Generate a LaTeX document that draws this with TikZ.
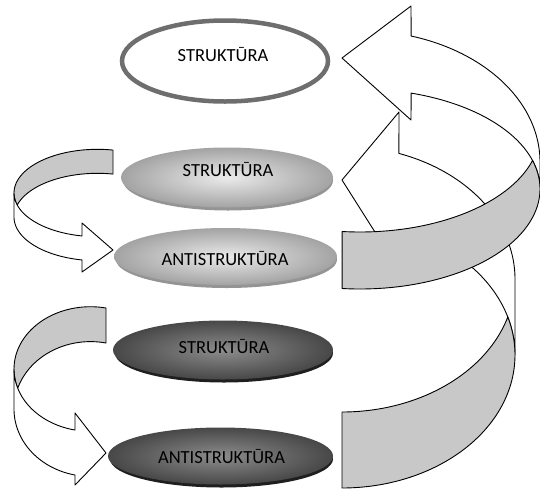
\documentclass[tikz,border=0pt]{standalone}
\usepackage{fontspec}
\setmainfont{Carlito}
\usetikzlibrary{shapes.geometric}
\definecolor{backgray}{HTML}{C8C8C8}
\definecolor{ringgray}{HTML}{6E6E6E}
\begin{document}
\begin{tikzpicture}[x=1pt,y=-1pt,
  edge/.style={draw=black, line width=0.9pt, line join=round},
  front/.style={edge, fill=white},
  back/.style={edge, fill=backgray},
  topell/.style={ellipse, inner sep=0pt, draw=ringgray, line width=4.5pt, fill=white},
  lightrim/.style={ellipse, inner sep=0pt, draw=none, fill=black!42},
  lightell/.style={ellipse, inner sep=0pt, draw=none, inner color=black!8, outer color=black!36},
  darkrim/.style={ellipse, inner sep=0pt, draw=none, fill=black!88},
  darkell/.style={ellipse, inner sep=0pt, draw=none, inner color=black!45, outer color=black!72},
  lbl/.style={anchor=base, inner sep=0pt, font=\fontsize{18.5}{20}\selectfont, text=black}]
\useasboundingbox (0,0) rectangle (540,491);

% ---------- right arrow A (lower, partly hidden) ----------
\draw[front] plot[domain=360:289.2,samples=50,variable=\t]({342+173*cos(\t)},{355+133*sin(\t)})
  -- (399,270) -- (342,180) -- (399,112)
  -- plot[domain=289.2:360,samples=50,variable=\t]({342+173*cos(\t)},{279+133*sin(\t)}) -- cycle;
\draw[back] plot[domain=90:0,samples=50,variable=\t]({342+173*cos(\t)},{355+133*sin(\t)})
  -- plot[domain=360:343.4,samples=12,variable=\t]({342+173*cos(\t)},{355+133*sin(\t)})
  -- plot[domain=16.6:90,samples=50,variable=\t]({342+173*cos(\t)},{279+133*sin(\t)}) -- cycle;

% ---------- right arrow B (upper) ----------
\draw[front] plot[domain=360:286.5,samples=50,variable=\t]({360+180*cos(\t)},{189+100*sin(\t)})
  -- (411,120) -- (342,58) -- (411,6)
  -- plot[domain=286.5:360,samples=50,variable=\t]({360+180*cos(\t)},{162+131.4*sin(\t)}) -- cycle;
\draw[back] plot[domain=95.7:0,samples=50,variable=\t]({360+180*cos(\t)},{189+100*sin(\t)})
  -- plot[domain=360:343.4,samples=12,variable=\t]({360+180*cos(\t)},{189+100*sin(\t)})
  -- plot[domain=16.56:95.7,samples=50,variable=\t]({360+180*cos(\t)},{132+100*sin(\t)}) -- cycle;

% ---------- left arrow L1 ----------
\draw[back] plot[domain=280.7:180,samples=40,variable=\t]({97.5+83.5*cos(\t)},{193+43.7*sin(\t)})
  -- plot[domain=180:164.1,samples=10,variable=\t]({97.5+83.5*cos(\t)},{193+43.7*sin(\t)})
  -- plot[domain=195.9:280.7,samples=40,variable=\t]({97.5+83.5*cos(\t)},{217+43.7*sin(\t)}) -- cycle;
\draw[front] plot[domain=180:100.7,samples=40,variable=\t]({97.5+83.5*cos(\t)},{193+43.7*sin(\t)})
  -- (82,223) -- (113,250) -- (82,272)
  -- plot[domain=100.7:180,samples=40,variable=\t]({97.5+83.5*cos(\t)},{217+43.7*sin(\t)}) -- cycle;

% ---------- left arrow L2 ----------
\draw[back] plot[domain=281.7:180,samples=40,variable=\t]({90.5+76.5*cos(\t)},{369+62.3*sin(\t)})
  -- plot[domain=180:162.1,samples=10,variable=\t]({90.5+76.5*cos(\t)},{369+62.3*sin(\t)})
  -- plot[domain=197.9:281.7,samples=40,variable=\t]({90.5+76.5*cos(\t)},{409+67.4*sin(\t)}) -- cycle;
\draw[front] plot[domain=180:101.7,samples=40,variable=\t]({90.5+76.5*cos(\t)},{369+62.3*sin(\t)})
  -- (75,413) -- (106,453) -- (75,485)
  -- plot[domain=101.7:180,samples=40,variable=\t]({90.5+76.5*cos(\t)},{409+67.4*sin(\t)}) -- cycle;

% ---------- ellipses ----------
\node[topell, minimum width=206pt, minimum height=81pt] (s0) at (225,61) {};
\node[lbl] (t0) at (223,61) {STRUKTŪRA};

\node[lightrim, minimum width=210pt, minimum height=60pt] (r1) at (228,180.5) {};
\node[lightell, minimum width=212pt, minimum height=60pt] (s1) at (227,177.5) {};
\node[lbl] (t1) at (228,176) {STRUKTŪRA};

\node[lightrim, minimum width=221pt, minimum height=57pt] (r2) at (226.5,259.5) {};
\node[lightell, minimum width=223pt, minimum height=57pt] (s2) at (225.5,256.5) {};
\node[lbl] (t2) at (225,265) {ANTISTRUKTŪRA};

\node[darkrim, minimum width=218pt, minimum height=59pt] (r3) at (224,353) {};
\node[darkell, minimum width=220pt, minimum height=59pt] (s3) at (223,350) {};
\node[lbl] (t3) at (224,353.5) {STRUKTŪRA};

\node[darkrim, minimum width=223pt, minimum height=57pt] (r4) at (221.5,459) {};
\node[darkell, minimum width=225pt, minimum height=57pt] (s4) at (220.5,456) {};
\node[lbl] (t4) at (221.5,463) {ANTISTRUKTŪRA};
\end{tikzpicture}
\end{document}
